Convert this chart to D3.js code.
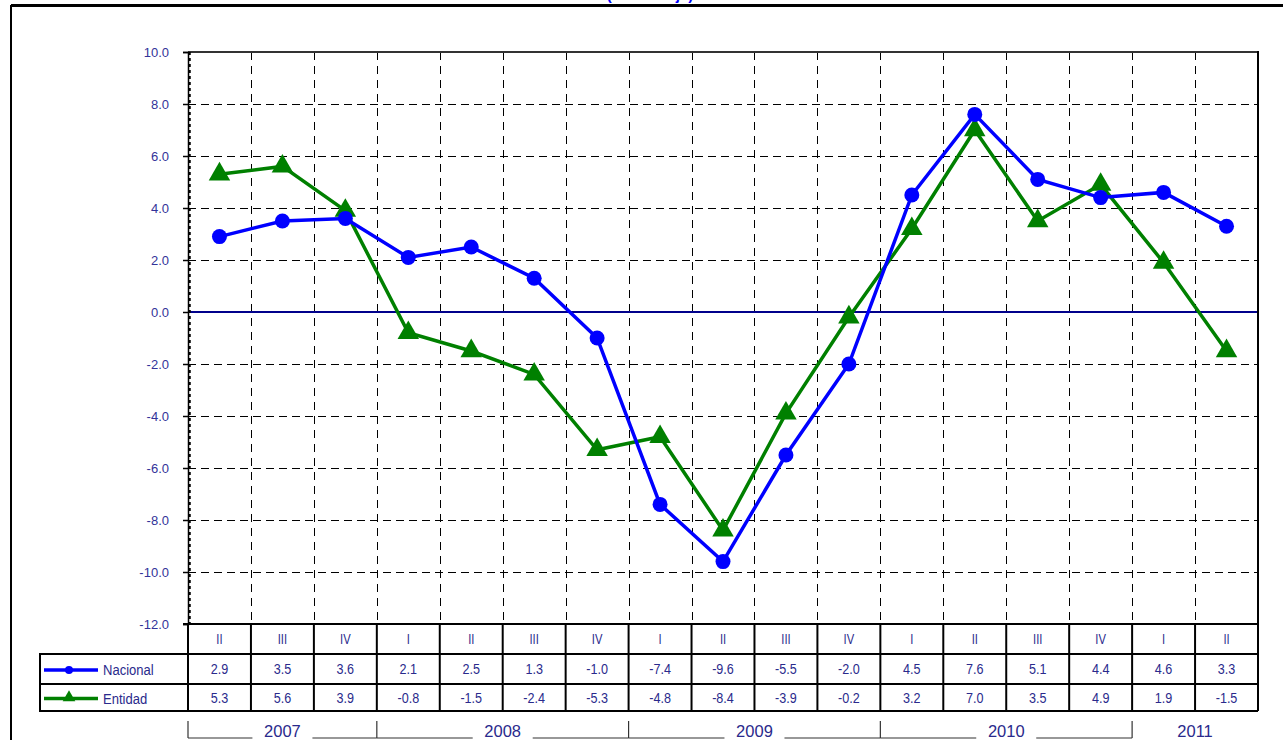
<!DOCTYPE html>
<html><head><meta charset="utf-8">
<script src="https://cdn.jsdelivr.net/npm/d3@7"></script>
<style>
html,body{margin:0;padding:0;background:#fff;}
svg{display:block;}
</style></head>
<body>
<svg id="chart" width="1283" height="740"></svg>
<script>
const quarters = ["II","III","IV","I","II","III","IV","I","II","III","IV","I","II","III","IV","I","II"];
const nacional = [2.9,3.5,3.6,2.1,2.5,1.3,-1.0,-7.4,-9.6,-5.5,-2.0,4.5,7.6,5.1,4.4,4.6,3.3];
const entidad  = [5.3,5.6,3.9,-0.8,-1.5,-2.4,-5.3,-4.8,-8.4,-3.9,-0.2,3.2,7.0,3.5,4.9,1.9,-1.5];
const years = ["2007","2008","2009","2010","2011"];
const yearCounts = [3,4,4,4,2];
const yTicks = [-12,-10,-8,-6,-4,-2,0,2,4,6,8,10];
const seriesNames = ["Nacional","Entidad"];
const titleText = "(Porcentaje)";

const svg = d3.select("#chart");
const L = 188, R = 1258, T = 52, B = 624;
const navy = "#2a2a8c";
const fontReg = "'Liberation Sans',Arial,sans-serif";
const fmt = v => d3.format(".1f")(v).replace("\u2212","-");

const x = d3.scaleBand().domain(d3.range(quarters.length)).range([L, R]).padding(0);
const y = d3.scaleLinear().domain([-12, 10]).range([B, T]);
const cx = i => x(i) + x.bandwidth()/2;
const crisp = v => Math.round(v) + 0.5;

// outer frame
svg.append("line").attr("x1",11).attr("x2",1283).attr("y1",5.5).attr("y2",5.5).attr("stroke","#000").attr("stroke-width",3);
svg.append("line").attr("x1",11).attr("x2",11).attr("y1",5).attr("y2",740).attr("stroke","#000").attr("stroke-width",2);
svg.append("text").attr("x",650).attr("y",0).attr("text-anchor","middle")
  .attr("font-family",fontReg).attr("font-weight","bold").attr("font-size",15).attr("fill","#0000ff").text(titleText);

// grid
const g = svg.append("g");
g.selectAll("line.hg").data(yTicks.filter(v => v > -12 && v < 10 && v !== 0)).enter().append("line")
  .attr("x1",L).attr("x2",R).attr("y1",d=>crisp(y(d))).attr("y2",d=>crisp(y(d)))
  .attr("stroke","#000").attr("stroke-width",1).attr("stroke-dasharray","8,5");
g.selectAll("line.vg").data(d3.range(1, quarters.length)).enter().append("line")
  .attr("x1",d=>crisp(x(d))).attr("x2",d=>crisp(x(d))).attr("y1",T).attr("y2",B)
  .attr("stroke","#000").attr("stroke-width",1).attr("stroke-dasharray","8,6");

// top border and zero line
g.append("line").attr("x1",L).attr("x2",R).attr("y1",T).attr("y2",T).attr("stroke","#333").attr("stroke-width",2);
g.append("line").attr("x1",L).attr("x2",R).attr("y1",y(0)).attr("y2",y(0)).attr("stroke","#00008b").attr("stroke-width",2);

// y axis
const yAxis = d3.axisLeft(y).tickValues(yTicks).tickFormat(fmt).tickSize(5).tickPadding(14);
const ya = svg.append("g").attr("transform",`translate(${L},0)`).call(yAxis);
ya.select(".domain").attr("stroke","#000").attr("stroke-width",1.5);
ya.selectAll(".tick line").attr("stroke","#000").attr("stroke-width",1.5);
ya.selectAll(".tick text").attr("fill","#333399").attr("font-family",fontReg).attr("font-size",13);
svg.append("line").attr("x1",L+1.5).attr("x2",L+1.5).attr("y1",T).attr("y2",B)
  .attr("stroke","#000").attr("stroke-width",2.5).attr("stroke-dasharray","3,3");

// right border
svg.append("line").attr("x1",R).attr("x2",R).attr("y1",T-1).attr("y2",711).attr("stroke","#000").attr("stroke-width",2);

// lines
const lineGen = d3.line().x((d,i)=>cx(i)).y(d=>y(d));
svg.append("path").datum(entidad).attr("d",lineGen).attr("fill","none").attr("stroke","#008000").attr("stroke-width",3.5);
svg.append("path").datum(nacional).attr("d",lineGen).attr("fill","none").attr("stroke","#0000ff").attr("stroke-width",3.5);
const tri = d3.symbol().type(d3.symbolTriangle).size(200);
svg.selectAll("path.tri").data(entidad).enter().append("path")
  .attr("transform",(d,i)=>`translate(${cx(i)},${y(d)})`).attr("d",tri()).attr("fill","#008000");
svg.selectAll("circle.nac").data(nacional).enter().append("circle")
  .attr("cx",(d,i)=>cx(i)).attr("cy",d=>y(d)).attr("r",7.5).attr("fill","#0000ff");

// table
const rowQ = [624, 654], rowN = [654, 684], rowE = [684, 711];
const tg = svg.append("g");
const stroke = (sel)=>sel.attr("stroke","#000").attr("stroke-width",2);
tg.append("line").attr("x1",L-5).attr("x2",R).attr("y1",B).attr("y2",B).call(stroke);
[654, 684, 711].forEach(yy => tg.append("line").attr("x1",40).attr("x2",R).attr("y1",yy).attr("y2",yy).call(stroke));
tg.append("line").attr("x1",40).attr("x2",40).attr("y1",653).attr("y2",712).call(stroke);
d3.range(0, quarters.length).forEach(i => {
  tg.append("line").attr("x1",x(i)).attr("x2",x(i)).attr("y1",B).attr("y2",711).call(stroke);
});
tg.selectAll("text.q").data(quarters).enter().append("text")
  .attr("transform",(d,i)=>`translate(${cx(i)},${(rowQ[0]+rowQ[1])/2+5}) scale(0.8,1)`).attr("text-anchor","middle")
  .attr("font-family",fontReg).attr("font-size",14).attr("fill",navy).text(d=>d);
[[nacional,rowN],[entidad,rowE]].forEach(([arr,row]) => {
  tg.selectAll(null).data(arr).enter().append("text")
    .attr("transform",(d,i)=>`translate(${cx(i)},${(row[0]+row[1])/2+5}) scale(0.9,1)`).attr("text-anchor","middle")
    .attr("font-family",fontReg).attr("font-size",14).attr("fill",navy).text(d=>fmt(d));
});
// legend cells
const legY = [(rowN[0]+rowN[1])/2+1, (rowE[0]+rowE[1])/2+1];
tg.append("line").attr("x1",44).attr("x2",98).attr("y1",legY[0]).attr("y2",legY[0]).attr("stroke","#0000ff").attr("stroke-width",3.5);
tg.append("circle").attr("cx",69).attr("cy",legY[0]).attr("r",4).attr("fill","#0000ff");
tg.append("line").attr("x1",44).attr("x2",98).attr("y1",legY[1]).attr("y2",legY[1]).attr("stroke","#008000").attr("stroke-width",3.5);
tg.append("path").attr("transform",`translate(69,${legY[1]-1})`).attr("d",d3.symbol().type(d3.symbolTriangle).size(70)()).attr("fill","#008000");
seriesNames.forEach((n,k) => {
  tg.append("text").attr("transform",`translate(103,${legY[k]+5}) scale(0.87,1)`)
    .attr("font-family",fontReg).attr("font-size",15).attr("fill",navy).text(n);
});

// year brackets
let start = 0;
const yb = 738;
years.forEach((yr, k) => {
  const x0 = x(start), x1 = (start + yearCounts[k] >= quarters.length) ? R : x(start + yearCounts[k]);
  const mid = (x0 + x1)/2;
  svg.append("text").attr("x",mid).attr("y",yb-1).attr("text-anchor","middle")
    .attr("font-family",fontReg).attr("font-size",16.5).attr("fill",navy).text(yr);
  const half = 30;
  svg.append("line").attr("x1",x0).attr("x2",x0).attr("y1",721).attr("y2",yb).attr("stroke","#333").attr("stroke-width",1.2);
  if (start + yearCounts[k] < quarters.length) {
    svg.append("line").attr("x1",x0).attr("x2",mid-half).attr("y1",yb).attr("y2",yb).attr("stroke","#333").attr("stroke-width",1.2);
    svg.append("line").attr("x1",mid+half).attr("x2",x1).attr("y1",yb).attr("y2",yb).attr("stroke","#333").attr("stroke-width",1.2);
  }
  start += yearCounts[k];
});
</script>
</body></html>
